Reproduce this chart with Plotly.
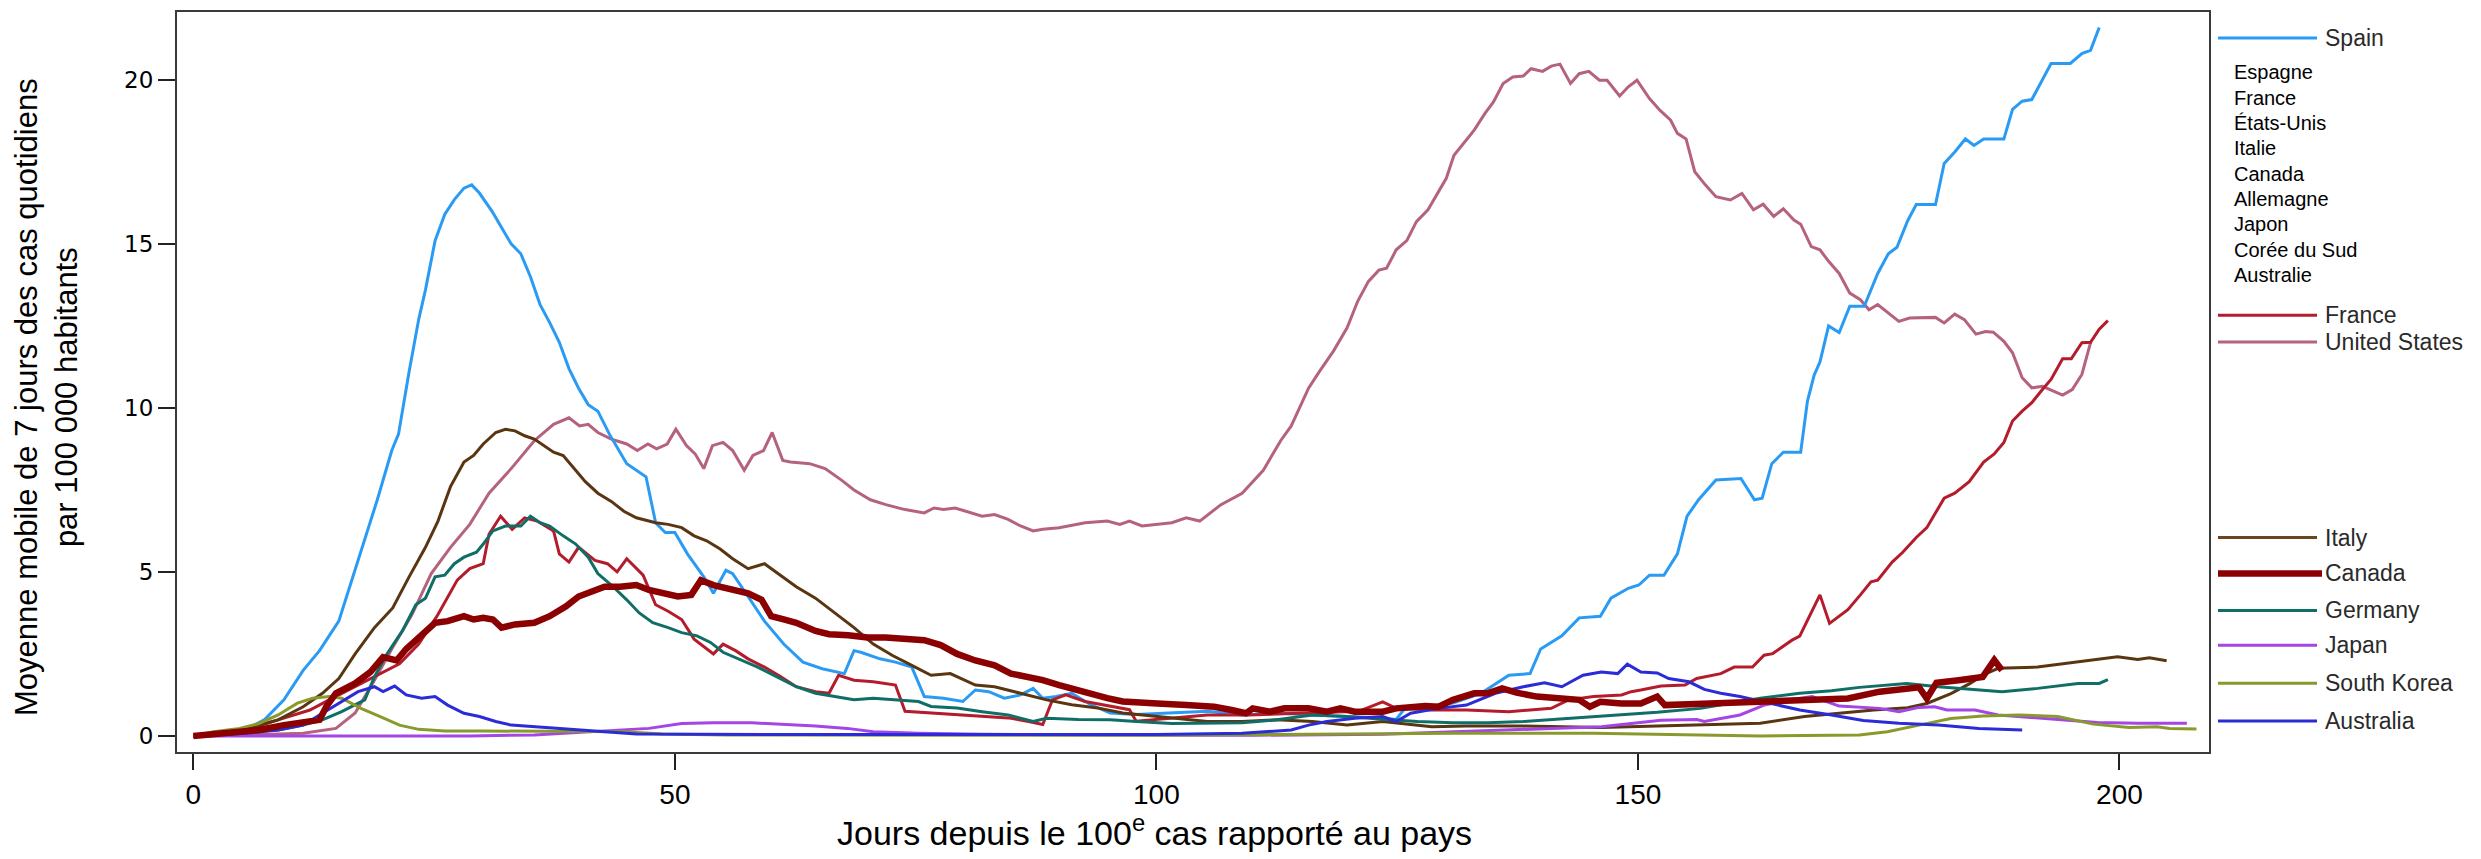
import plotly.graph_objects as go

# ---------------------------------------------------------------------------
# Data: 7-day moving average of daily cases per 100k, by days since 100th case
# ---------------------------------------------------------------------------
spain_days = [0, 3, 5.5, 7.4, 9.4, 11.4, 13.1, 15.1, 17.4, 19.1, 20.6, 21.3, 22.4, 23.4, 24.1, 25.1, 26.1, 27.1,
              28.1, 28.9, 29.7, 31, 32, 33, 34, 35, 36, 37, 38, 39, 40, 41, 42, 43.2, 45, 47, 48, 49, 50, 51.3,
              53, 54, 55.3, 56, 57.6, 59.3, 61.3, 63.3, 65.3, 67.6, 68.6, 69.3, 71.3, 72.9, 74.6, 75.9, 77.9,
              79.9, 81.2, 82.6, 84.2, 85.9, 87.2, 88.2, 89.6, 91.2, 93.2, 95.2, 97.9, 101.6, 105.3, 108.9, 112.5,
              116.2, 119.8, 123.5, 124.9, 125.7, 127.9, 130.8, 133.7, 136.6, 138.8, 139.9, 142.1, 143.9, 146.1,
              147.2, 149, 150.1, 151.2, 152.7, 154.1, 155.1, 156.3, 158.1, 160.7, 162.1, 162.9, 163.9, 165.1,
              166.9, 167.6, 168.3, 168.9, 169.8, 170.9, 172, 173.5, 174.9, 176, 176.9, 178, 178.9, 180.9, 181.8,
              182.9, 184, 184.9, 185.9, 188, 188.9, 189.9, 190.9, 192.9, 194.9, 196.1, 197, 197.9]
spain_vals = [0, 0.1, 0.2, 0.5, 1.1, 2.0, 2.6, 3.5, 5.65, 7.2, 8.7, 9.2, 11.1, 12.7, 13.6, 15.1, 15.9, 16.35,
              16.7, 16.8, 16.55, 16.0, 15.5, 15.0, 14.7, 14.0, 13.15, 12.6, 12.0, 11.2, 10.6, 10.1, 9.9, 9.2, 8.3,
              7.9, 6.5, 6.2, 6.2, 5.55, 4.85, 4.35, 5.05, 4.95, 4.25, 3.5, 2.8, 2.25, 2.05, 1.9, 2.6, 2.55, 2.35,
              2.25, 2.1, 1.2, 1.15, 1.05, 1.4, 1.35, 1.15, 1.25, 1.45, 1.15, 1.2, 1.3, 0.95, 0.7, 0.65, 0.7, 0.75,
              0.64, 0.7, 0.64, 0.6, 0.55, 0.5, 0.8, 0.9, 1.0, 1.3, 1.85, 1.9, 2.65, 3.05, 3.6, 3.65, 4.2, 4.5, 4.6,
              4.9, 4.9, 5.55, 6.7, 7.2, 7.8, 7.85, 7.2, 7.25, 8.3, 8.65, 8.65, 10.2, 11.0, 11.4, 12.5, 12.3, 13.1,
              13.1, 14.1, 14.7, 14.9, 15.7, 16.2, 16.2, 17.45, 17.8, 18.2, 18.0, 18.2, 18.2, 19.1, 19.35, 19.4,
              20.5, 20.5, 20.8, 20.9, 21.6]

france_days = [0, 5.5, 8.8, 12.1, 14.1, 16.1, 18.8, 21.4, 23.4, 25.4, 27.4, 28.7, 30.1, 30.7, 31.9, 33.1, 34.4,
               35.7, 37.4, 38, 39, 40, 41.7, 43, 44, 45, 46.7, 48, 49.3, 50.7, 52, 54, 55, 56.3, 57.6, 59.3, 61,
               62.6, 64.6, 66, 67, 68.6, 70.6, 72.9, 73.9, 76.6, 79.3, 81.9, 84.6, 86.6, 88.2, 89.2, 90.6, 92.6,
               95.2, 97.2, 97.9, 100, 105.3, 109.6, 116.2, 121, 123.5, 124.9, 128.6, 132.2, 136.6, 141, 142.8,
               145.4, 148.3, 149.3, 150.3, 152.4, 154.9, 156.1, 158.6, 160, 161.9, 163.1, 164, 166, 166.8, 168.9,
               169.9, 171.8, 173.1, 174.2, 174.9, 176.4, 177.5, 178.9, 180, 181, 181.8, 182.9, 184.4, 185.9, 187,
               188, 188.9, 189.9, 190.9, 192, 192.9, 194.1, 195, 196.1, 197, 197.9, 198.8]
france_vals = [0, 0.18, 0.49, 0.79, 1.1, 1.4, 1.8, 2.2, 2.8, 3.7, 4.75, 5.1, 5.25, 6.15, 6.7, 6.3, 6.65, 6.55,
               6.25, 5.55, 5.3, 5.75, 5.35, 5.25, 5.0, 5.4, 4.9, 4.0, 3.8, 3.55, 2.95, 2.5, 2.8, 2.6, 2.35, 2.1,
               1.8, 1.5, 1.35, 1.3, 1.85, 1.7, 1.65, 1.55, 0.75, 0.7, 0.64, 0.6, 0.55, 0.45, 0.35, 1.1, 1.25, 1.05,
               0.9, 0.8, 0.45, 0.5, 0.64, 0.64, 0.7, 0.75, 1.04, 0.84, 0.79, 0.79, 0.74, 0.84, 1.1, 1.2, 1.25,
               1.35, 1.4, 1.52, 1.55, 1.75, 1.9, 2.1, 2.1, 2.46, 2.51, 2.92, 3.04, 4.3, 3.43, 3.85, 4.3, 4.7,
               4.75, 5.3, 5.6, 6.05, 6.35, 6.85, 7.25, 7.4, 7.75, 8.35, 8.6, 8.95, 9.6, 9.9, 10.16, 10.56, 10.87,
               11.5, 11.5, 11.99, 12.0, 12.4, 12.66]

us_days = [0, 5, 11.4, 14.8, 16.8, 18.8, 20.7, 22.7, 24.7, 26.7, 28.7, 30.7, 33, 35.4, 37.4, 39, 40.1, 41, 42,
           43.4, 45, 46.1, 47.2, 48.1, 49.2, 50.1, 51.2, 52.1, 53, 53.9, 55, 56, 57.2, 58.1, 59.2, 60.1, 61.2, 62,
           64, 65.6, 67.3, 68.6, 70.3, 71.9, 73.9, 75.9, 76.9, 77.9, 79.1, 80.3, 81.9, 83.2, 84.6, 85.9, 87.2,
           88.2, 89.9, 92.6, 94.9, 96.2, 97.2, 98.5, 101.6, 103.1, 104.5, 106.7, 108.9, 111.1, 112.9, 114,
           115.8, 116.9, 118.4, 119.8, 120.9, 122, 123.1, 123.9, 124.9, 126, 127, 128.2, 128.9, 130.1, 130.9,
           131.9, 133, 134.1, 135, 136, 137, 138.1, 138.9, 140.1, 141, 141.9, 143, 143.9, 144.9, 146, 146.8,
           148.1, 149, 149.9, 151.2, 152.3, 153.4, 154.1, 155, 155.9, 157, 158.1, 159.6, 160.8, 162, 163, 164.1,
           165.1, 166.2, 166.9, 168, 168.9, 169.8, 170.9, 172, 173.1, 174, 174.9, 176, 177.1, 178.2, 179.6,
           180.9, 181.8, 182.9, 183.9, 185.1, 186.1, 186.9, 188, 188.9, 189.9, 190.9, 192, 193.1, 194.1, 195.1,
           196.1, 197]
us_vals = [0, 0.02, 0.08, 0.23, 0.7, 1.7, 2.7, 3.7, 4.95, 5.75, 6.45, 7.4, 8.15, 9.0, 9.5, 9.7, 9.45, 9.5, 9.25,
           9.05, 8.9, 8.7, 8.9, 8.75, 8.9, 9.35, 8.85, 8.6, 8.15, 8.85, 8.95, 8.7, 8.1, 8.55, 8.7, 9.25, 8.4, 8.35,
           8.3, 8.15, 7.8, 7.5, 7.2, 7.05, 6.9, 6.8, 6.95, 6.9, 6.95, 6.85, 6.7, 6.75, 6.6, 6.4, 6.25, 6.3, 6.35,
           6.5, 6.55, 6.45, 6.55, 6.4, 6.5, 6.65, 6.55, 7.05, 7.4, 8.1, 9.0, 9.45, 10.6, 11.1, 11.74, 12.44,
           13.25, 13.85, 14.2, 14.26, 14.82, 15.1, 15.68, 16.04, 16.39, 17.0, 17.7, 18.06, 18.47, 18.97, 19.33,
           19.89, 20.09, 20.12, 20.34, 20.26, 20.42, 20.48, 19.89, 20.19, 20.26, 19.99, 19.99, 19.51, 19.79,
           19.99, 19.43, 19.07, 18.77, 18.37, 18.2, 17.2, 16.8, 16.44, 16.34, 16.54, 16.04, 16.21, 15.84, 16.07,
           15.73, 15.6, 14.92, 14.82, 14.47, 14.1, 13.5, 13.3, 12.99, 13.15, 12.9, 12.64, 12.74, 12.74, 12.76,
           12.59, 12.86, 12.69, 12.25, 12.33, 12.31, 12.03, 11.68, 10.92, 10.61, 10.66, 10.51, 10.39, 10.56,
           11.02, 11.99]

italy_days = [0, 5.5, 8.8, 11.4, 13.4, 15.1, 16.8, 18.8, 20.7, 22.4, 24.1, 25.4, 26.7, 28.1, 29.1, 30.1, 31.4,
              32.4, 33.4, 34.4, 35.4, 36.4, 37.4, 38.4, 39.4, 40.7, 42, 43.4, 44.7, 46, 48, 49.3, 50.7, 52, 53.3,
              54.7, 56, 57.6, 59.3, 61, 62.6, 64.6, 66.6, 68.6, 70.6, 72.6, 74.6, 76.6, 78.6, 81.2, 83.2, 85.9,
              88.6, 91.2, 93.9, 96.5, 99.7, 101.6, 105.3, 108.9, 112.5, 116.2, 119.8, 123.5, 128.6, 132.2, 138.1,
              146.2, 154.5, 162.7, 167.3, 170.9, 174.5, 178, 180, 182.5, 184.5, 185.8, 187.4, 191.5, 194.8,
              198.1, 199.8, 201.9, 203.1, 204.9]
italy_vals = [0, 0.23, 0.49, 0.89, 1.3, 1.75, 2.5, 3.3, 3.9, 4.85, 5.75, 6.55, 7.6, 8.35, 8.55, 8.9, 9.25, 9.35,
              9.3, 9.15, 9.05, 8.85, 8.65, 8.55, 8.2, 7.75, 7.4, 7.15, 6.85, 6.65, 6.5, 6.45, 6.35, 6.1, 5.95, 5.7,
              5.4, 5.1, 5.25, 4.9, 4.55, 4.2, 3.75, 3.3, 2.8, 2.45, 2.15, 1.85, 1.9, 1.55, 1.5, 1.3, 1.1, 0.95,
              0.85, 0.7, 0.6, 0.54, 0.44, 0.44, 0.49, 0.44, 0.33, 0.44, 0.28, 0.3, 0.3, 0.26, 0.33, 0.39, 0.59,
              0.69, 0.79, 0.86, 0.99, 1.29, 1.6, 1.85, 2.06, 2.1, 2.23, 2.36, 2.41, 2.33, 2.38, 2.29]

canada_days = [0, 3.5, 6.8, 9.4, 11.8, 13.1, 13.8, 14.8, 16.8, 18.4, 19.7, 21.1, 22.1, 23.4, 25.1, 26.4, 28.1,
               29.1, 30.1, 31.1, 32, 33.4, 35.4, 37, 38.7, 40, 41.3, 42.7, 44.3, 46, 47.3, 48.7, 50.3, 51.7, 52.7,
               54, 55.7, 57.6, 59, 60, 61.3, 62.6, 64.6, 66, 68, 70, 71.9, 73.9, 75.9, 77.6, 79.3, 81.2, 83.2,
               84.9, 86.6, 88.2, 89.9, 91.6, 93.2, 94.9, 96.5, 98.5, 100.1, 103.1, 106, 107.8, 109.3, 110, 111.8,
               113.3, 115.8, 117.7, 119.1, 120.6, 123.5, 124.9, 127.9, 129.3, 130.8, 133, 134.4, 135.9, 137.4,
               139.5, 142.5, 143.9, 145, 146.1, 148.3, 150.3, 152, 152.8, 156, 158.6, 162.7, 166.8, 171.8, 175.1,
               179.2, 180, 181, 183.3, 185.8, 187, 187.8]
canada_vals = [0, 0.08, 0.18, 0.33, 0.44, 0.49, 0.89, 1.3, 1.6, 1.95, 2.4, 2.3, 2.65, 3.0, 3.45, 3.5, 3.65, 3.55,
               3.6, 3.55, 3.3, 3.4, 3.45, 3.65, 3.95, 4.25, 4.4, 4.55, 4.55, 4.6, 4.45, 4.35, 4.25, 4.3, 4.75,
               4.6, 4.5, 4.35, 4.15, 3.65, 3.55, 3.45, 3.2, 3.1, 3.07, 3.0, 3.0, 2.97, 2.92, 2.77, 2.5, 2.3, 2.15,
               1.9, 1.8, 1.7, 1.55, 1.4, 1.3, 1.15, 1.05, 1.0, 0.99, 0.94, 0.89, 0.79, 0.69, 0.84, 0.74, 0.84,
               0.84, 0.74, 0.84, 0.74, 0.74, 0.84, 0.91, 0.89, 1.1, 1.3, 1.3, 1.45, 1.32, 1.2, 1.15, 1.1, 0.89,
               1.04, 0.99, 0.99, 1.2, 0.94, 0.97, 0.99, 1.04, 1.09, 1.14, 1.35, 1.48, 1.14, 1.62, 1.7, 1.8, 2.31,
               2.0]

germany_days = [0, 5.5, 8.8, 11.4, 13.4, 15.4, 17.8, 18.8, 20.1, 21.7, 23.1, 24.1, 25.1, 26.1, 27.1, 28.1, 29.4,
                30.1, 31.1, 32.4, 34, 35, 36, 37, 38.4, 39.7, 41, 42, 43.4, 45, 46.3, 47.7, 49.3, 50.7, 52.3, 53.7,
                55, 56.6, 58.6, 60.6, 62.6, 64.6, 66.6, 68.6, 70.6, 72.6, 75.3, 76.6, 79.3, 81.9, 84.6, 87.2,
                88.6, 91.9, 95.2, 97.9, 101.6, 108.9, 112.5, 116.2, 119.8, 123.5, 127.1, 130.8, 134.4, 138.1,
                141.7, 146.2, 152, 156.5, 162.7, 166.8, 170.1, 173, 177.9, 181.2, 185.4, 187.8, 191.5, 195.7,
                197.9, 198.8]
germany_vals = [0, 0.13, 0.18, 0.33, 0.49, 0.74, 1.1, 1.8, 2.5, 3.2, 4.0, 4.2, 4.85, 4.9, 5.25, 5.45, 5.6, 5.85,
                6.25, 6.4, 6.4, 6.7, 6.5, 6.4, 6.1, 5.85, 5.45, 4.95, 4.6, 4.15, 3.75, 3.45, 3.3, 3.15, 3.05, 2.85,
                2.55, 2.35, 2.1, 1.8, 1.5, 1.3, 1.2, 1.1, 1.15, 1.1, 1.05, 0.9, 0.85, 0.74, 0.64, 0.44, 0.54, 0.5,
                0.49, 0.44, 0.38, 0.4, 0.49, 0.64, 0.59, 0.51, 0.44, 0.4, 0.4, 0.44, 0.51, 0.59, 0.72, 0.84, 1.15,
                1.3, 1.38, 1.48, 1.6, 1.5, 1.39, 1.35, 1.45, 1.6, 1.6, 1.72]

japan_days = [0, 28.7, 35.4, 42, 47.3, 50.7, 54, 58, 61.3, 64.6, 67.9, 70.6, 75.3, 81.9, 95.2, 110, 123.5, 130.8,
              138.1, 146.2, 152.4, 156.1, 156.9, 160.6, 163.1, 165.8, 168.1, 170.9, 175.1, 177.1, 179.2, 180.8,
              182.1, 185, 187.4, 191.5, 197.7, 201.9, 207]
japan_vals = [0, 0.0, 0.03, 0.13, 0.23, 0.38, 0.4, 0.4, 0.36, 0.3, 0.23, 0.13, 0.08, 0.05, 0.03, 0.02, 0.05, 0.13,
              0.2, 0.28, 0.48, 0.5, 0.44, 0.64, 0.94, 1.1, 1.2, 0.91, 0.84, 0.74, 0.87, 0.89, 0.79, 0.79, 0.64,
              0.54, 0.41, 0.39, 0.39]

korea_days = [0, 2.1, 4.8, 6.8, 8.8, 10.8, 12.4, 14.1, 15.4, 17.4, 19.4, 21.4, 23.4, 26.1, 30.1, 35.4, 40.7,
              44.7, 48.7, 55.3, 80, 100, 116.2, 130.8, 145.4, 154.5, 162.7, 173, 175.9, 179.2, 182.5, 185.8,
              189.5, 193.6, 197.3, 201, 203.9, 205.2, 208]
korea_vals = [0, 0.13, 0.23, 0.38, 0.64, 1.0, 1.15, 1.2, 1.15, 0.84, 0.59, 0.33, 0.2, 0.15, 0.15, 0.15, 0.15,
              0.13, 0.06, 0.03, 0.02, 0.02, 0.05, 0.08, 0.08, 0.03, 0.0, 0.03, 0.13, 0.33, 0.53, 0.61, 0.64, 0.59,
              0.36, 0.26, 0.28, 0.23, 0.21]

australia_days = [0, 5.5, 8.8, 11.4, 13.4, 15.4, 17.1, 18.8, 19.7, 20.9, 22.1, 23.7, 25.1, 26.4, 28.1, 29.7,
                  31.4, 33, 35.4, 38, 42, 46, 60, 80, 100, 108.9, 114, 115.8, 117.7, 120.6, 123.5, 124.9, 126.4,
                  129.3, 132.2, 135.2, 138.1, 140.3, 142.1, 144.3, 146.2, 147.9, 148.9, 150.3, 152, 153.2, 155.3,
                  156.9, 158.6, 160.6, 163.5, 166.8, 170.1, 173.4, 177.1, 181.2, 185.4, 189.9]
australia_vals = [0, 0.08, 0.18, 0.33, 0.69, 1.04, 1.35, 1.5, 1.35, 1.52, 1.25, 1.15, 1.2, 0.94, 0.69, 0.59, 0.44,
                  0.33, 0.28, 0.23, 0.13, 0.06, 0.04, 0.03, 0.04, 0.08, 0.18, 0.33, 0.44, 0.54, 0.59, 0.44, 0.69,
                  0.84, 0.94, 1.3, 1.5, 1.62, 1.5, 1.85, 1.95, 1.9, 2.19, 1.95, 1.92, 1.75, 1.65, 1.42, 1.3, 1.2,
                  1.0, 0.79, 0.64, 0.47, 0.39, 0.33, 0.23, 0.18]

french_names = ["Espagne", "France", "États-Unis", "Italie", "Canada", "Allemagne", "Japon",
                "Corée du Sud", "Australie"]

# name, days, values, colour, width (drawing order: Canada last, on top)
SERIES = [
    ("United States", us_days, us_vals, "#B5627F", 3),
    ("Spain", spain_days, spain_vals, "#2A9BF5", 3),
    ("France", france_days, france_vals, "#B41C2C", 3),
    ("Italy", italy_days, italy_vals, "#5A3511", 3),
    ("Germany", germany_days, germany_vals, "#0F6E66", 3),
    ("Japan", japan_days, japan_vals, "#A445E6", 3),
    ("South Korea", korea_days, korea_vals, "#8A992C", 3),
    ("Australia", australia_days, australia_vals, "#2B2BD8", 3),
    ("Canada", canada_days, canada_vals, "#8B0000", 6.5),
]

# ---------------------------------------------------------------------------
# Layout geometry, in page pixels (the html body adds an 8px margin)
# ---------------------------------------------------------------------------
PAGE_W, PAGE_H, OFF = 2481, 859, 8
L, R, T, B = 177, 2209, 10, 752
FONT = "Liberation Sans, Arial, sans-serif"


def px(x):
    return (x - L) / (R - L)


def py(y):
    return (B - y) / (B - T)


fig = go.Figure()
for name, d, v, col, w in SERIES:
    fig.add_trace(go.Scatter(x=d, y=v, mode="lines", name=name,
                             line=dict(color=col, width=w), showlegend=False))

# hand-made legend to mirror the reference layout
legend_rows = [
    ("Spain", "#2A9BF5", 3, 36),
    ("France", "#B41C2C", 3, 314),
    ("United States", "#B5627F", 3, 341),
    ("Italy", "#6B4420", 3, 537),
    ("Canada", "#8B0000", 6.5, 573),
    ("Germany", "#0F6E66", 3, 610),
    ("Japan", "#A445E6", 3, 645),
    ("South Korea", "#8A992C", 3, 683),
    ("Australia", "#2B2BD8", 3, 721),
]
for name, col, w, y in legend_rows:
    fig.add_shape(type="line", xref="paper", yref="paper",
                  x0=px(2218), x1=px(2317 if w < 5 else 2322), y0=py(y), y1=py(y),
                  line=dict(color=col, width=w))
    fig.add_annotation(text=name, xref="paper", yref="paper", x=px(2323), y=py(y),
                       xanchor="left", yanchor="middle", showarrow=False,
                       font=dict(family=FONT, size=23, color="#2a2a2a"))

for i, nm in enumerate(french_names):
    fig.add_annotation(text=nm, xref="paper", yref="paper", x=px(2232), y=py(70.5 + i * 25.4),
                       xanchor="left", yanchor="middle", showarrow=False,
                       font=dict(family=FONT, size=20, color="#000000"))

# axis titles
fig.add_annotation(text="Moyenne mobile de 7 jours des cas quotidiens<br>par 100 000 habitants",
                   xref="paper", yref="paper", x=px(47), y=py(396), textangle=-90,
                   xanchor="center", yanchor="middle", showarrow=False,
                   font=dict(family=FONT, size=31, color="#000000"))
fig.add_annotation(text="Jours depuis le 100<sup>e</sup> cas rapporté au pays",
                   xref="paper", yref="paper", x=px(1154), y=py(831),
                   xanchor="center", yanchor="middle", showarrow=False,
                   font=dict(family=FONT, size=34, color="#000000"))

fig.update_layout(
    width=PAGE_W - OFF, height=PAGE_H - OFF,
    margin=dict(l=L - OFF, r=PAGE_W - R, t=T - OFF, b=PAGE_H - B),
    paper_bgcolor="white", plot_bgcolor="white",
    showlegend=False,
    xaxis=dict(range=[-1.7, 209.3], tickvals=[0, 50, 100, 150, 200], ticks="outside",
               ticklen=16, tickwidth=2, tickcolor="#222", showgrid=False, zeroline=False,
               showline=True, mirror=True, linecolor="#3a3a3a", linewidth=2,
               ticklabelstandoff=0,
               tickfont=dict(family=FONT, size=28, color="#000")),
    yaxis=dict(range=[-0.49, 22.07], tickvals=[0, 5, 10, 15, 20], ticks="outside",
               ticklen=17, tickwidth=2, tickcolor="#222", showgrid=False, zeroline=False,
               showline=True, mirror=True, linecolor="#3a3a3a", linewidth=2,
               tickfont=dict(family="DejaVu Sans", size=23, color="#000")),
)

fig.write_html("out.html")
